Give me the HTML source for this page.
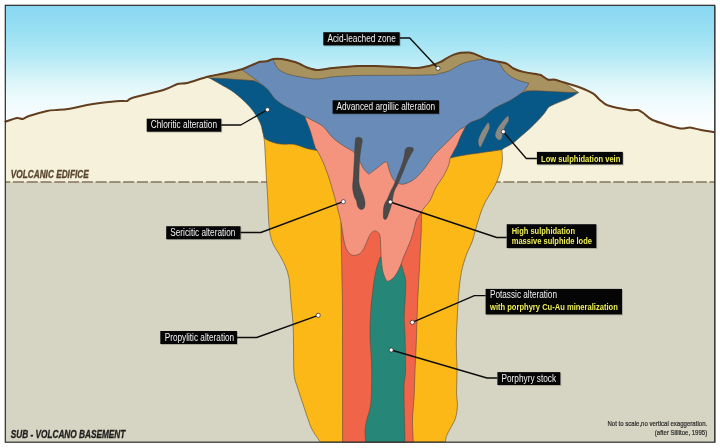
<!DOCTYPE html>
<html><head><meta charset="utf-8">
<style>
html,body{margin:0;padding:0;background:#fff;width:720px;height:448px;overflow:hidden}
svg{display:block;will-change:transform}
text{font-family:"Liberation Sans",sans-serif}
</style></head>
<body>
<svg width="720" height="448" viewBox="0 0 720 448">
<defs>
<linearGradient id="sky" x1="0" y1="5" x2="0" y2="135" gradientUnits="userSpaceOnUse">
<stop offset="0" stop-color="#88d7f1"/>
<stop offset="0.19" stop-color="#98dff3"/>
<stop offset="0.38" stop-color="#b1e9f5"/>
<stop offset="0.54" stop-color="#d2f2f8"/>
<stop offset="0.69" stop-color="#eafafc"/>
<stop offset="0.85" stop-color="#f8fdfe"/>
<stop offset="1" stop-color="#ffffff"/>
</linearGradient>
</defs>
<rect x="0" y="0" width="720" height="448" fill="#ffffff"/>
<rect x="5" y="5" width="710" height="140" fill="url(#sky)"/>
<path fill="#f5f1da" d="M5.0,122.0 L6.0,121.5 L17.0,118.0 L22.5,119.0 L29.0,116.0 L47.0,111.0 L57.0,110.0 L68.0,109.0 L87.0,105.0 L100.0,103.0 L120.0,101.0 L127.0,101.0 L132.0,98.0 L164.0,89.7 L177.5,84.0 L187.0,83.0 L207.5,76.7 L227.0,72.8 L241.7,69.3 L251.7,65.2 L260.0,61.7 L266.7,61.3 L273.0,59.0 L282.0,59.0 L295.0,62.0 L300.0,64.0 L307.0,67.5 L317.0,70.0 L333.0,68.0 L358.0,66.0 L375.0,66.0 L400.0,67.0 L417.0,68.0 L430.0,65.8 L440.0,62.2 L447.0,58.0 L453.9,54.6 L460.8,52.8 L469.2,52.5 L474.7,53.9 L485.8,58.8 L495.6,61.1 L506.7,63.6 L513.6,68.5 L523.3,71.9 L540.0,74.7 L542.0,75.8 L548.3,79.7 L555.0,79.7 L566.7,83.3 L580.0,87.5 L593.3,93.7 L600.0,100.0 L607.5,105.3 L629.0,110.0 L638.0,110.0 L643.3,113.0 L652.5,120.0 L679.0,128.3 L690.0,127.5 L700.0,129.7 L713.3,132.0 L715.0,132.3 L715.0,182.0 L5.0,182.0 Z"/>
<rect x="5" y="182" width="710" height="260" fill="#d6d5c3"/>
<line x1="5" y1="182" x2="300" y2="182" stroke="#84745c" stroke-width="1.7" stroke-dasharray="11.1 2.68" stroke-dashoffset="5.88"/>
<line x1="460" y1="182" x2="715" y2="182" stroke="#84745c" stroke-width="1.7" stroke-dasharray="11.05 2.7" stroke-dashoffset="11.7"/>
<g stroke="#5b4a35" stroke-width="0.6" stroke-linejoin="round">
<path fill="#fbb817" d="M262.0,128.0 C262.0,128.0 263.5,134.6 264.0,138.3 C264.5,142.0 264.6,142.5 265.0,150.0 C265.4,157.5 266.2,175.0 266.7,183.3 C267.2,191.6 267.5,194.2 267.8,200.0 C268.1,205.8 268.1,212.3 268.5,217.9 C268.9,223.5 269.2,229.1 270.0,233.5 C270.8,237.9 271.7,240.9 273.4,244.6 C275.1,248.3 278.1,252.1 280.1,255.8 C282.2,259.5 284.2,263.3 285.7,267.0 C287.2,270.7 288.3,274.4 289.0,278.1 C289.7,281.8 289.8,285.7 290.1,289.3 C290.4,292.9 290.4,295.7 290.8,300.0 C291.2,304.3 291.9,310.0 292.3,315.0 C292.7,320.0 293.1,323.3 293.3,330.0 C293.5,336.7 293.5,347.4 293.6,355.0 C293.8,362.6 293.5,370.0 294.2,375.5 C294.9,381.0 296.3,383.4 297.7,388.0 C299.1,392.6 301.0,398.1 302.7,403.2 C304.4,408.3 306.3,414.2 307.8,418.4 C309.3,422.6 309.9,425.1 311.6,428.5 C313.3,431.9 316.4,436.4 317.9,438.6 C319.4,440.9 320.4,442.0 320.4,442.0 C320.4,442.0 445.3,442.0 445.3,442.0 C445.3,442.0 445.7,438.2 446.5,436.0 C447.3,433.8 448.8,431.4 450.3,428.5 C451.8,425.6 454.2,422.2 455.4,418.4 C456.6,414.6 457.2,410.0 457.4,405.8 C457.6,401.6 456.7,399.4 456.6,393.1 C456.5,386.8 457.1,376.4 457.0,367.9 C456.9,359.4 456.2,351.2 456.3,342.0 C456.4,332.8 457.1,320.8 457.5,312.5 C457.9,304.2 458.2,299.2 458.8,292.5 C459.4,285.8 460.1,278.8 461.3,272.5 C462.6,266.2 464.5,260.1 466.3,255.0 C468.1,249.9 470.5,246.2 472.0,242.0 C473.5,237.8 474.2,234.5 475.5,230.0 C476.8,225.5 478.4,219.6 480.0,215.0 C481.6,210.4 482.9,206.7 485.0,202.5 C487.1,198.3 490.4,193.8 492.5,190.0 C494.6,186.2 496.0,183.8 497.5,180.0 C499.0,176.2 500.7,171.2 501.5,167.5 C502.3,163.8 502.3,160.9 502.4,158.0 C502.4,155.1 502.4,155.0 501.8,150.0 C501.2,145.0 499.0,128.0 499.0,128.0 C499.0,128.0 262.0,128.0 262.0,128.0 Z"/>
<path fill="#f0654a" d="M341.0,222.0 C341.0,222.0 421.5,208.0 421.5,208.0 C421.5,208.0 421.5,223.0 421.3,230.0 C421.1,237.0 420.6,243.8 420.3,250.0 C420.0,256.2 420.0,258.3 419.5,267.5 C419.0,276.7 418.0,292.6 417.5,305.0 C417.0,317.4 416.7,331.2 416.3,342.0 C415.9,352.8 415.4,361.2 415.0,370.0 C414.6,378.8 414.6,386.7 414.2,395.0 C413.8,403.3 412.6,412.2 412.5,420.0 C412.4,427.8 413.3,442.0 413.3,442.0 C413.3,442.0 342.6,442.0 342.6,442.0 C342.6,442.0 342.6,347.0 342.5,320.0 C342.4,293.0 342.2,291.7 342.0,280.0 C341.8,268.3 341.6,259.7 341.4,250.0 C341.2,240.3 341.0,222.0 341.0,222.0 Z"/>
<path fill="#268779" d="M380.3,257.0 C380.3,257.0 400.8,262.0 400.8,262.0 C400.8,262.0 402.6,268.7 403.3,271.1 C404.0,273.6 404.6,274.4 405.0,276.7 C405.4,279.0 405.8,280.8 405.8,285.0 C405.8,289.2 405.3,296.1 405.0,301.7 C404.7,307.2 404.2,312.8 404.2,318.3 C404.2,323.8 404.8,326.1 405.0,334.7 C405.2,343.3 405.8,361.3 405.6,370.0 C405.4,378.7 404.2,378.7 404.0,387.0 C403.8,395.3 404.3,410.8 404.5,420.0 C404.7,429.2 405.0,442.0 405.0,442.0 C405.0,442.0 365.8,442.0 365.8,442.0 C365.8,442.0 364.9,435.4 365.0,431.7 C365.1,428.0 365.7,424.7 366.7,420.0 C367.7,415.3 370.0,411.6 370.8,403.3 C371.6,395.0 371.8,381.4 371.7,370.0 C371.6,358.6 370.1,344.7 370.0,334.7 C369.9,324.7 370.4,316.9 370.8,310.0 C371.2,303.1 371.9,298.5 372.5,293.3 C373.1,288.1 373.7,283.1 374.4,278.9 C375.1,274.6 375.7,271.4 376.7,267.8 C377.7,264.2 380.3,257.0 380.3,257.0 Z"/>
<path fill="#075787" d="M207.5,76.7 C207.5,76.7 207.4,76.7 209.4,77.9 C211.4,79.1 215.4,81.3 219.5,83.7 C223.6,86.1 229.7,89.2 234.0,92.4 C238.3,95.6 242.2,99.2 245.6,102.6 C249.0,106.0 251.9,109.3 254.3,112.7 C256.7,116.1 258.7,119.5 260.2,122.9 C261.7,126.3 262.4,130.4 263.1,133.0 C263.8,135.6 264.5,138.5 264.5,138.5 C264.5,138.5 267.9,140.5 270.0,141.3 C272.1,142.1 274.5,143.0 277.0,143.5 C279.5,144.0 282.2,144.1 285.0,144.2 C287.8,144.3 291.3,143.9 294.0,144.3 C296.7,144.7 298.7,145.7 301.0,146.4 C303.3,147.2 305.3,148.1 308.0,148.8 C310.7,149.5 317.2,150.5 317.2,150.5 C317.2,150.5 330.0,155.0 330.0,155.0 C330.0,155.0 450.0,158.0 450.0,158.0 C450.0,158.0 459.6,155.9 465.0,155.0 C470.4,154.1 476.4,153.4 482.5,152.5 C488.6,151.6 501.8,149.8 501.8,149.8 C501.8,149.8 503.2,148.6 505.1,147.5 C507.0,146.4 510.6,144.8 513.1,143.1 C515.6,141.4 517.2,139.6 520.1,137.1 C523.0,134.6 527.2,131.0 530.2,128.2 C533.2,125.4 536.0,122.6 538.4,120.1 C540.8,117.6 543.0,115.0 544.6,113.0 C546.2,111.0 547.0,109.1 548.2,107.8 C549.4,106.5 550.0,106.3 551.8,105.4 C553.6,104.5 556.5,103.3 558.9,102.3 C561.3,101.3 563.7,100.6 566.1,99.6 C568.5,98.5 571.1,97.2 573.2,96.0 C575.3,94.8 578.5,92.6 578.5,92.6 C578.5,92.6 566.7,86.0 566.7,86.0 C566.7,86.0 540.0,88.0 540.0,88.0 C540.0,88.0 523.0,92.0 523.0,92.0 C523.0,92.0 480.0,110.0 480.0,110.0 C480.0,110.0 400.0,110.0 400.0,110.0 C400.0,110.0 300.0,110.0 300.0,110.0 C300.0,110.0 258.0,82.0 258.0,82.0 C258.0,82.0 240.0,76.0 240.0,76.0 C240.0,76.0 207.5,76.7 207.5,76.7 Z"/>
<path fill="#f4947f" d="M305.0,117.5 C305.0,117.5 308.3,125.1 310.0,130.0 C311.7,134.9 313.8,143.3 315.0,146.7 C316.2,150.1 315.9,147.9 317.2,150.5 C318.5,153.1 321.0,157.4 323.0,162.0 C325.0,166.6 327.2,172.5 329.0,178.0 C330.8,183.5 332.5,189.7 334.0,195.0 C335.5,200.3 336.9,205.8 338.0,210.0 C339.1,214.2 339.9,217.3 340.5,220.0 C341.1,222.7 341.3,224.1 341.6,226.0 C341.9,227.9 342.0,228.7 342.5,231.7 C343.0,234.7 343.8,240.7 344.7,244.0 C345.6,247.3 346.7,249.9 348.0,251.8 C349.3,253.7 350.8,254.7 352.5,255.2 C354.2,255.7 356.4,255.3 358.1,254.6 C359.8,253.8 361.3,252.5 362.6,250.7 C363.9,248.9 364.8,246.4 365.9,244.0 C367.0,241.6 368.2,238.2 369.3,236.2 C370.4,234.1 371.5,232.5 372.6,231.7 C373.7,230.9 374.9,230.8 376.0,231.2 C377.1,231.6 378.6,232.6 379.3,234.0 C380.0,235.4 380.1,236.9 380.4,239.6 C380.6,242.3 380.6,246.3 380.8,250.0 C381.0,253.7 381.1,258.1 381.5,262.0 C381.9,265.9 382.4,270.1 383.3,273.3 C384.2,276.5 386.8,281.3 386.8,281.3 C386.8,281.3 388.7,281.3 390.0,280.5 C391.3,279.7 393.0,278.5 394.5,276.6 C396.0,274.7 397.7,271.7 398.9,269.3 C400.1,266.9 401.0,264.3 401.8,262.1 C402.6,259.9 402.9,258.7 403.9,256.3 C404.9,253.9 406.4,250.5 407.6,247.6 C408.8,244.7 410.1,242.1 411.2,238.9 C412.3,235.8 413.2,231.8 414.1,228.7 C415.0,225.5 415.1,222.7 416.3,220.0 C417.5,217.3 421.3,212.5 421.3,212.5 C421.3,212.5 422.5,210.1 424.0,208.0 C425.5,205.9 428.4,203.4 430.3,200.0 C432.2,196.6 433.6,191.6 435.7,187.8 C437.8,184.0 440.8,180.6 442.9,177.0 C445.0,173.4 447.1,169.3 448.3,166.1 C449.5,162.9 450.1,158.0 450.1,158.0 C450.1,158.0 455.8,147.8 457.4,144.4 C459.0,141.0 459.0,140.0 460.0,137.8 C461.0,135.6 462.3,133.0 463.3,131.0 C464.3,129.0 466.0,126.0 466.0,126.0 C466.0,126.0 470.0,110.0 470.0,110.0 C470.0,110.0 420.0,95.0 420.0,95.0 C420.0,95.0 330.0,100.0 330.0,100.0 C330.0,100.0 305.0,117.5 305.0,117.5 Z"/>
<path fill="#a8925f" d="M207.5,76.7 C207.5,76.7 227.0,72.8 227.0,72.8 C227.0,72.8 241.7,69.3 241.7,69.3 C241.7,69.3 251.7,65.2 251.7,65.2 C251.7,65.2 260.0,61.7 260.0,61.7 C260.0,61.7 266.7,61.3 266.7,61.3 C266.7,61.3 273.0,59.0 273.0,59.0 C273.0,59.0 282.0,59.0 282.0,59.0 C282.0,59.0 295.0,62.0 295.0,62.0 C295.0,62.0 300.0,64.0 300.0,64.0 C300.0,64.0 307.0,67.5 307.0,67.5 C307.0,67.5 317.0,70.0 317.0,70.0 C317.0,70.0 333.0,68.0 333.0,68.0 C333.0,68.0 358.0,66.0 358.0,66.0 C358.0,66.0 375.0,66.0 375.0,66.0 C375.0,66.0 400.0,67.0 400.0,67.0 C400.0,67.0 417.0,68.0 417.0,68.0 C417.0,68.0 430.0,65.8 430.0,65.8 C430.0,65.8 440.0,62.2 440.0,62.2 C440.0,62.2 447.0,58.0 447.0,58.0 C447.0,58.0 453.9,54.6 453.9,54.6 C453.9,54.6 460.8,52.8 460.8,52.8 C460.8,52.8 469.2,52.5 469.2,52.5 C469.2,52.5 474.7,53.9 474.7,53.9 C474.7,53.9 485.8,58.8 485.8,58.8 C485.8,58.8 495.6,61.1 495.6,61.1 C495.6,61.1 506.7,63.6 506.7,63.6 C506.7,63.6 513.6,68.5 513.6,68.5 C513.6,68.5 523.3,71.9 523.3,71.9 C523.3,71.9 540.0,74.7 540.0,74.7 C540.0,74.7 542.0,75.8 542.0,75.8 C542.0,75.8 548.3,79.7 548.3,79.7 C548.3,79.7 555.0,79.7 555.0,79.7 C555.0,79.7 564.0,82.6 564.0,82.6 C564.0,82.6 578.5,92.6 578.5,92.6 C578.5,92.6 572.6,92.5 569.6,92.4 C566.6,92.3 563.7,92.1 560.7,92.0 C557.7,91.9 554.8,91.8 551.8,91.6 C548.8,91.4 545.9,91.2 542.9,91.1 C539.9,91.0 537.1,90.8 533.9,90.8 C530.7,90.8 523.7,91.1 523.7,91.1 C523.7,91.1 510.0,85.0 510.0,85.0 C510.0,85.0 480.0,78.0 480.0,78.0 C480.0,78.0 400.0,80.0 400.0,80.0 C400.0,80.0 300.0,80.0 300.0,80.0 C300.0,80.0 258.0,81.0 258.0,81.0 C258.0,81.0 261.4,81.1 256.7,80.8 C252.0,80.5 237.8,79.5 230.0,79.0 C222.2,78.5 213.8,78.4 210.0,78.0 C206.2,77.6 207.5,76.7 207.5,76.7 Z"/>
<path fill="#688cb7" d="M242.0,69.8 C242.0,69.8 250.0,66.2 250.0,66.2 C250.0,66.2 260.0,61.9 260.0,61.9 C260.0,61.9 266.7,61.5 266.7,61.5 C266.7,61.5 273.0,59.3 273.0,59.3 C273.0,59.3 275.7,66.2 278.0,68.6 C280.3,71.0 283.3,72.4 287.0,73.8 C290.7,75.2 295.0,75.9 300.0,76.8 C305.0,77.7 311.5,79.0 317.0,79.0 C322.5,79.0 326.2,77.4 333.0,76.8 C339.8,76.2 346.8,75.8 358.0,75.5 C369.2,75.2 387.5,75.4 400.0,75.3 C412.5,75.2 426.3,75.1 433.0,74.8 C439.7,74.5 437.4,73.9 440.0,73.3 C442.6,72.7 445.5,72.4 448.3,71.3 C451.1,70.2 454.4,67.8 456.7,66.5 C459.0,65.2 459.9,64.6 462.2,63.7 C464.5,62.8 467.4,61.9 470.6,61.2 C473.9,60.5 478.9,59.7 481.7,59.4 C484.5,59.1 487.2,59.6 487.2,59.6 C487.2,59.6 495.6,61.5 495.6,61.5 C495.6,61.5 499.7,63.2 499.7,63.2 C499.7,63.2 500.2,64.2 501.1,65.7 C502.0,67.2 503.4,70.0 505.3,72.0 C507.2,74.0 509.7,76.0 512.2,77.5 C514.8,79.0 517.8,80.1 520.6,81.0 C523.4,81.9 528.9,83.1 528.9,83.1 C528.9,83.1 526.6,87.9 524.7,90.0 C522.9,92.1 520.1,93.9 517.8,95.6 C515.5,97.3 513.2,98.7 511.0,100.0 C508.8,101.3 507.3,101.8 504.4,103.3 C501.4,104.8 497.0,106.5 493.3,108.9 C489.6,111.3 485.7,115.6 482.0,117.8 C478.3,120.0 473.9,120.7 471.0,122.2 C468.1,123.7 466.6,125.7 464.6,127.0 C462.6,128.3 461.3,128.3 459.2,130.0 C457.1,131.7 454.7,134.5 452.0,137.2 C449.3,139.9 445.9,143.3 442.9,146.3 C439.9,149.3 436.9,151.7 433.9,155.3 C430.9,158.9 427.9,164.1 424.9,167.9 C421.9,171.7 418.5,175.5 415.8,177.9 C413.1,180.3 411.0,181.4 408.6,182.4 C406.2,183.4 403.8,184.5 401.4,184.2 C399.0,183.9 396.1,182.7 394.2,180.6 C392.2,178.5 390.8,174.5 389.7,171.5 C388.6,168.5 387.3,162.5 387.3,162.5 C387.3,162.5 386.1,161.4 384.2,162.5 C382.3,163.6 378.7,166.9 376.1,168.8 C373.6,170.8 368.9,174.2 368.9,174.2 C368.9,174.2 365.0,170.9 363.5,168.8 C362.0,166.7 361.4,164.3 359.9,161.6 C358.4,158.9 356.5,154.9 354.4,152.6 C352.3,150.3 349.6,149.5 347.2,148.0 C344.8,146.5 342.6,145.4 340.0,143.5 C337.4,141.6 334.5,139.5 331.7,136.7 C328.9,133.9 326.1,129.2 323.3,126.7 C320.5,124.2 317.9,123.3 315.0,121.7 C312.1,120.1 309.4,119.0 306.0,117.2 C302.6,115.4 298.4,112.9 294.6,110.9 C290.9,108.9 286.6,107.2 283.5,105.3 C280.4,103.4 277.8,101.5 275.7,99.6 C273.6,97.7 272.7,95.9 271.2,94.0 C269.7,92.1 269.0,90.6 266.7,88.4 C264.4,86.2 257.5,80.8 257.5,80.8 C257.5,80.8 242.0,69.8 242.0,69.8 Z"/>
</g>
<path fill="none" stroke="#623d1e" stroke-width="2" stroke-linejoin="round" d="M5.0,122.0 C5.1,121.9 4.5,122.0 6.0,121.5 C7.5,121.0 14.9,118.3 17.0,118.0 C19.1,117.7 21.0,119.2 22.5,119.0 C24.0,118.8 25.9,117.0 29.0,116.0 C32.1,115.0 43.5,111.8 47.0,111.0 C50.5,110.2 54.4,110.2 57.0,110.0 C59.6,109.8 64.2,109.6 68.0,109.0 C71.8,108.4 83.0,105.8 87.0,105.0 C91.0,104.2 95.9,103.5 100.0,103.0 C104.1,102.5 116.6,101.2 120.0,101.0 C123.4,100.8 125.5,101.4 127.0,101.0 C128.5,100.6 127.4,99.4 132.0,98.0 C136.6,96.6 158.3,91.5 164.0,89.7 C169.7,88.0 174.6,84.8 177.5,84.0 C180.4,83.2 183.2,83.9 187.0,83.0 C190.8,82.1 202.5,78.0 207.5,76.7 C212.5,75.4 222.7,73.7 227.0,72.8 C231.3,71.9 238.6,70.2 241.7,69.3 C244.8,68.3 249.4,66.2 251.7,65.2 C254.0,64.2 258.1,62.2 260.0,61.7 C261.9,61.2 265.1,61.6 266.7,61.3 C268.3,61.0 271.1,59.3 273.0,59.0 C274.9,58.7 279.2,58.6 282.0,59.0 C284.8,59.4 292.8,61.4 295.0,62.0 C297.2,62.6 298.5,63.3 300.0,64.0 C301.5,64.7 304.9,66.8 307.0,67.5 C309.1,68.2 313.8,69.9 317.0,70.0 C320.2,70.1 327.9,68.5 333.0,68.0 C338.1,67.5 352.8,66.2 358.0,66.0 C363.2,65.8 369.8,65.9 375.0,66.0 C380.2,66.1 394.8,66.8 400.0,67.0 C405.2,67.2 413.2,68.2 417.0,68.0 C420.8,67.8 427.1,66.5 430.0,65.8 C432.9,65.1 437.9,63.2 440.0,62.2 C442.1,61.2 445.3,59.0 447.0,58.0 C448.7,57.0 452.2,55.2 453.9,54.6 C455.6,54.0 458.9,53.1 460.8,52.8 C462.7,52.5 467.5,52.4 469.2,52.5 C470.9,52.6 472.6,53.1 474.7,53.9 C476.8,54.7 483.2,57.9 485.8,58.8 C488.4,59.6 493.0,60.5 495.6,61.1 C498.2,61.7 504.4,62.7 506.7,63.6 C508.9,64.5 511.5,67.5 513.6,68.5 C515.7,69.5 520.0,71.1 523.3,71.9 C526.6,72.7 537.7,74.2 540.0,74.7 C542.3,75.2 541.0,75.2 542.0,75.8 C543.0,76.4 546.7,79.2 548.3,79.7 C549.9,80.2 552.7,79.2 555.0,79.7 C557.3,80.2 563.6,82.3 566.7,83.3 C569.8,84.3 576.7,86.2 580.0,87.5 C583.3,88.8 590.8,92.1 593.3,93.7 C595.8,95.3 598.2,98.5 600.0,100.0 C601.8,101.5 603.9,104.0 607.5,105.3 C611.1,106.5 625.2,109.4 629.0,110.0 C632.8,110.6 636.2,109.6 638.0,110.0 C639.8,110.4 641.5,111.8 643.3,113.0 C645.1,114.2 648.0,118.1 652.5,120.0 C657.0,121.9 674.3,127.4 679.0,128.3 C683.7,129.2 687.4,127.3 690.0,127.5 C692.6,127.7 697.1,129.1 700.0,129.7 C702.9,130.3 711.4,131.7 713.3,132.0 C715.2,132.3 714.8,132.3 715.0,132.3"/>
<g fill="#4b4a4a" stroke="#3a3a3a" stroke-width="0.4">
<path d="M358.1,137.2 C359.0,137.2 360.8,137.5 361.5,138.2 C362.2,138.9 362.3,140.5 362.3,141.5 C362.3,142.5 362.1,141.8 361.7,144.4 C361.3,147.0 360.3,152.0 359.9,157.1 C359.4,162.2 359.1,170.6 359.0,175.1 C358.9,179.6 358.7,181.2 359.3,184.2 C359.9,187.2 361.7,190.6 362.6,193.2 C363.5,195.8 364.2,198.0 364.6,200.0 C365.0,202.0 365.2,203.5 365.0,205.0 C364.8,206.5 364.3,208.1 363.5,208.8 C362.7,209.5 361.0,209.7 360.0,209.2 C359.0,208.7 358.1,207.4 357.5,206.0 C356.9,204.6 357.0,202.5 356.5,201.0 C356.0,199.5 355.0,199.0 354.4,196.8 C353.8,194.6 352.8,191.4 352.6,187.8 C352.5,184.2 353.2,180.2 353.5,175.1 C353.8,170.0 354.1,162.8 354.4,157.1 C354.7,151.4 355.0,144.0 355.3,140.8 C355.6,137.6 355.7,138.6 356.2,138.0 C356.7,137.4 357.2,137.2 358.1,137.2 Z"/>
<path d="M409.5,147.2 C410.4,147.2 411.9,147.1 412.5,147.6 C413.1,148.1 413.7,148.9 413.3,150.2 C412.9,151.5 411.5,153.2 410.4,155.3 C409.3,157.4 408.0,159.8 406.8,162.5 C405.6,165.2 404.7,167.9 403.2,171.5 C401.7,175.1 399.3,180.9 397.8,184.2 C396.3,187.5 395.1,188.8 394.2,191.4 C393.3,194.0 392.9,197.6 392.4,200.0 C391.9,202.4 391.7,204.0 391.2,206.0 C390.7,208.0 389.9,209.9 389.2,212.0 C388.4,214.1 387.5,217.3 386.7,218.5 C385.9,219.7 385.1,219.6 384.5,219.3 C383.9,219.0 383.4,218.6 383.3,216.7 C383.2,214.8 383.2,210.4 383.6,208.0 C384.0,205.6 384.9,203.3 385.5,202.0 C386.1,200.7 386.0,201.8 386.9,200.0 C387.8,198.2 389.4,194.0 390.6,191.4 C391.8,188.8 393.0,186.9 394.2,184.2 C395.4,181.5 396.6,178.1 397.8,175.1 C399.0,172.1 400.3,169.1 401.4,166.1 C402.4,163.1 403.5,159.8 404.1,157.1 C404.7,154.4 404.7,151.6 405.2,150.0 C405.7,148.4 406.3,148.3 407.0,147.8 C407.7,147.3 408.6,147.2 409.5,147.2 Z"/>
</g>
<g fill="#8b8984" stroke="#6b6965" stroke-width="0.3">
<path d="M488.1,122.8 C488.9,122.8 489.8,125.4 489.5,127.5 C489.1,129.6 487.4,132.7 486.1,135.6 C484.8,138.5 482.9,142.8 481.8,144.8 C480.8,146.7 480.4,147.7 479.9,147.2 C479.3,146.6 478.2,143.5 478.3,141.3 C478.5,139.2 479.4,136.7 480.5,134.4 C481.5,132.1 483.3,129.4 484.6,127.5 C485.9,125.6 487.3,122.8 488.1,122.8 Z"/>
<path d="M507.8,116.2 C508.9,116.0 508.9,119.1 508.5,120.8 C508.0,122.5 505.9,124.7 505.0,126.6 C504.0,128.5 503.5,130.4 503.0,132.3 C502.4,134.3 502.3,136.9 501.6,138.2 C500.9,139.4 499.8,140.2 498.7,139.8 C497.7,139.4 495.6,137.7 495.3,135.9 C495.1,134.0 496.2,131.2 497.3,128.9 C498.5,126.6 500.5,124.0 502.2,121.9 C504.0,119.8 506.8,116.4 507.8,116.2 Z"/>
</g>
<!-- leader lines -->
<g fill="none" stroke="#0d0d0d" stroke-width="1.35" stroke-linejoin="round">
<polyline points="399.7,38 409.7,38 438,68.3"/>
<polyline points="221.3,125 240.8,125 267.5,109.7"/>
<polyline points="536.9,158.5 526.3,158.5 503.3,131.7"/>
<polyline points="240.5,232.5 260.8,232.5 343.3,201.7"/>
<polyline points="506.7,237.5 496.7,237.5 390.3,202"/>
<polyline points="485.6,295.6 474.4,295.6 412.3,322.3"/>
<polyline points="237,337.5 256.7,337.5 318.2,315.3"/>
<polyline points="497.4,378 487,378 391.2,350"/>
</g>
<g fill="#ffffff" stroke="#222" stroke-width="0.7">
<circle cx="438" cy="68.3" r="2.1"/>
<circle cx="267.5" cy="109.7" r="2.1"/>
<circle cx="503.3" cy="131.7" r="2.1"/>
<circle cx="343.3" cy="201.7" r="2.1"/>
<circle cx="390.3" cy="202" r="2.1"/>
<circle cx="412.3" cy="322.3" r="2.1"/>
<circle cx="318.2" cy="315.3" r="2.1"/>
<circle cx="391.2" cy="350" r="2.1"/>
</g>
<g fill="#000" fill-opacity="0.22">
<rect x="324.2" y="33.1" width="76.4" height="13.2"/>
<rect x="333.5" y="101.2" width="106.4" height="13.4"/>
<rect x="147.6" y="119.6" width="74.6" height="13"/>
<rect x="537.8" y="152.8" width="85.9" height="12.5"/>
<rect x="167.1" y="227.1" width="74.3" height="13"/>
<rect x="507.6" y="225.1" width="89.6" height="23.8"/>
<rect x="486.5" y="289.8" width="136.4" height="25.5"/>
<rect x="161.2" y="331.9" width="76.7" height="13"/>
<rect x="498.3" y="373.0" width="62.9" height="12.9"/>
</g>
<g fill="#050505">
<rect x="323.3" y="32.2" width="76.4" height="13.2"/>
<rect x="332.6" y="100.3" width="106.4" height="13.4"/>
<rect x="146.7" y="118.7" width="74.6" height="13"/>
<rect x="536.9" y="151.9" width="85.9" height="12.5"/>
<rect x="166.2" y="226.2" width="74.3" height="13"/>
<rect x="506.7" y="224.2" width="89.6" height="23.8"/>
<rect x="485.6" y="288.9" width="136.4" height="25.5"/>
<rect x="160.3" y="331" width="76.7" height="13"/>
<rect x="497.4" y="372.1" width="62.9" height="12.9"/>
</g>
<g fill="#f2f2f2" font-size="10">
<text x="327.4" y="41.9" textLength="68.4" lengthAdjust="spacingAndGlyphs">Acid-leached zone</text>
<text x="336.5" y="110" textLength="98.6" lengthAdjust="spacingAndGlyphs">Advanced argillic alteration</text>
<text x="150.8" y="128.3" textLength="66.2" lengthAdjust="spacingAndGlyphs">Chloritic alteration</text>
<text x="170.3" y="235.8" textLength="65" lengthAdjust="spacingAndGlyphs">Sericitic alteration</text>
<text x="164.7" y="340.8" textLength="69.5" lengthAdjust="spacingAndGlyphs">Propylitic alteration</text>
<text x="501.5" y="381.5" textLength="54.6" lengthAdjust="spacingAndGlyphs">Porphyry stock</text>
<text x="490" y="298.2" textLength="67" lengthAdjust="spacingAndGlyphs">Potassic alteration</text>
</g>
<g fill="#f0f058" font-size="9" font-weight="bold">
<text x="541.1" y="161.7" textLength="79.2" lengthAdjust="spacingAndGlyphs">Low sulphidation vein</text>
<text x="511.7" y="233.7" textLength="63.3" lengthAdjust="spacingAndGlyphs">High sulphidation</text>
<text x="511.7" y="244.2" textLength="80.3" lengthAdjust="spacingAndGlyphs">massive sulphide lode</text>
<text x="490" y="310" textLength="127.8" lengthAdjust="spacingAndGlyphs">with porphyry Cu-Au mineralization</text>
</g>
<text x="10.8" y="177.5" font-size="10" font-weight="bold" font-style="italic" fill="#5a4630" stroke="#5a4630" stroke-width="0.3" textLength="77.9" lengthAdjust="spacingAndGlyphs">VOLCANIC EDIFICE</text>
<text x="10.7" y="437.7" font-size="10" font-weight="bold" font-style="italic" fill="#1e1e1e" stroke="#1e1e1e" stroke-width="0.3" textLength="114.7" lengthAdjust="spacingAndGlyphs">SUB - VOLCANO BASEMENT</text>
<g fill="#2a2a2a" stroke="#2a2a2a" stroke-width="0.2" font-size="7.3">
<text x="607.4" y="426.1" textLength="99.8" lengthAdjust="spacingAndGlyphs">Not to scale,no vertical exaggeration.</text>
<text x="654.8" y="435.1" textLength="52.4" lengthAdjust="spacingAndGlyphs">(after Sillitoe, 1995)</text>
</g>
<rect x="5.3" y="5.3" width="709.4" height="436.9" fill="none" stroke="#2b2b2b" stroke-width="1.2"/>
<line x1="715" y1="6" x2="715" y2="442.6" stroke="#444" stroke-width="0.9"/>
</svg>
</body></html>
